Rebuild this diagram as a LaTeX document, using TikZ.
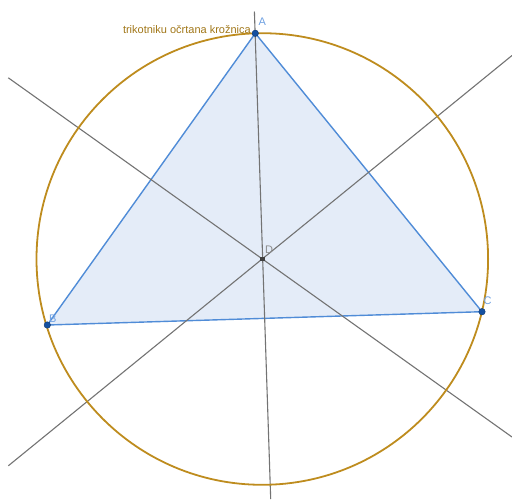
\documentclass[tikz,border=0pt]{standalone}
\usepackage{fontspec}
\setmainfont{Liberation Sans}
\usetikzlibrary{calc}
\definecolor{circcol}{RGB}{190,140,30}
\definecolor{tricol}{RGB}{80,140,215}
\definecolor{trifill}{RGB}{228,236,248}
\definecolor{ptcol}{RGB}{21,80,160}
\definecolor{labcol}{RGB}{110,160,225}
\definecolor{bisect}{RGB}{115,115,115}
\tikzset{
  bisector/.style={draw=bisect, line width=1.1pt},
  circum/.style={draw=circcol, line width=1.8pt},
  triedge/.style={draw=tricol, line width=1.4pt, fill=trifill, line join=round},
  vertex/.style={circle, fill=ptcol, draw=ptcol!70!black, line width=0.4pt, inner sep=0pt, minimum size=6.5pt},
  centerpt/.style={rectangle, fill=black!75, inner sep=0pt, minimum size=4.5pt},
  ptlabel/.style={text=labcol, font=\fontsize{11}{13}\selectfont, inner sep=0pt},
}
\begin{document}
\begin{tikzpicture}[x=1pt,y=-1pt]
\useasboundingbox (0,0) rectangle (512,499);
\coordinate (A) at (255.3,33.3);
\coordinate (B) at (47.3,325);
\coordinate (C) at (482,311.7);
\coordinate (D) at (262.3,259);
% bisector ends
\coordinate (v1) at (254.4,11.5);
\coordinate (v2) at (270.7,499);
\coordinate (p1) at (8.3,77.8);
\coordinate (p2) at (512,437);
\coordinate (q1) at (512,55.5);
\coordinate (q2) at (8.3,465.8);
% triangle
\path[triedge] (A) -- (B) -- (C) -- cycle;
% bisectors
\draw[bisector] (v1) -- (v2);
\draw[bisector] (p1) -- (p2);
\draw[bisector] (q1) -- (q2);
% circumcircle
\draw[circum] (D) circle (225.8);
% points
\node[vertex] (nA) at (A) {};
\node[vertex] (nB) at (B) {};
\node[vertex] (nC) at (C) {};
\node[centerpt] (nD) at (D) {};
\node[ptlabel, anchor=south west] (lA) at (258.5,25.5) {A};
\node[ptlabel, anchor=south west] (lB) at (49,323) {B};
\node[ptlabel, anchor=south west] (lC) at (483.5,305) {C};
\node[text=black!45, font=\fontsize{11}{13}\selectfont, inner sep=0pt, anchor=south west] (lD) at (265,254) {D};
\node[text=circcol!85!black, font=\fontsize{11}{13}\selectfont, inner sep=0pt, anchor=base east] (lcirc) at (251,33) {trikotniku očrtana krožnica};
\end{tikzpicture}
\end{document}
